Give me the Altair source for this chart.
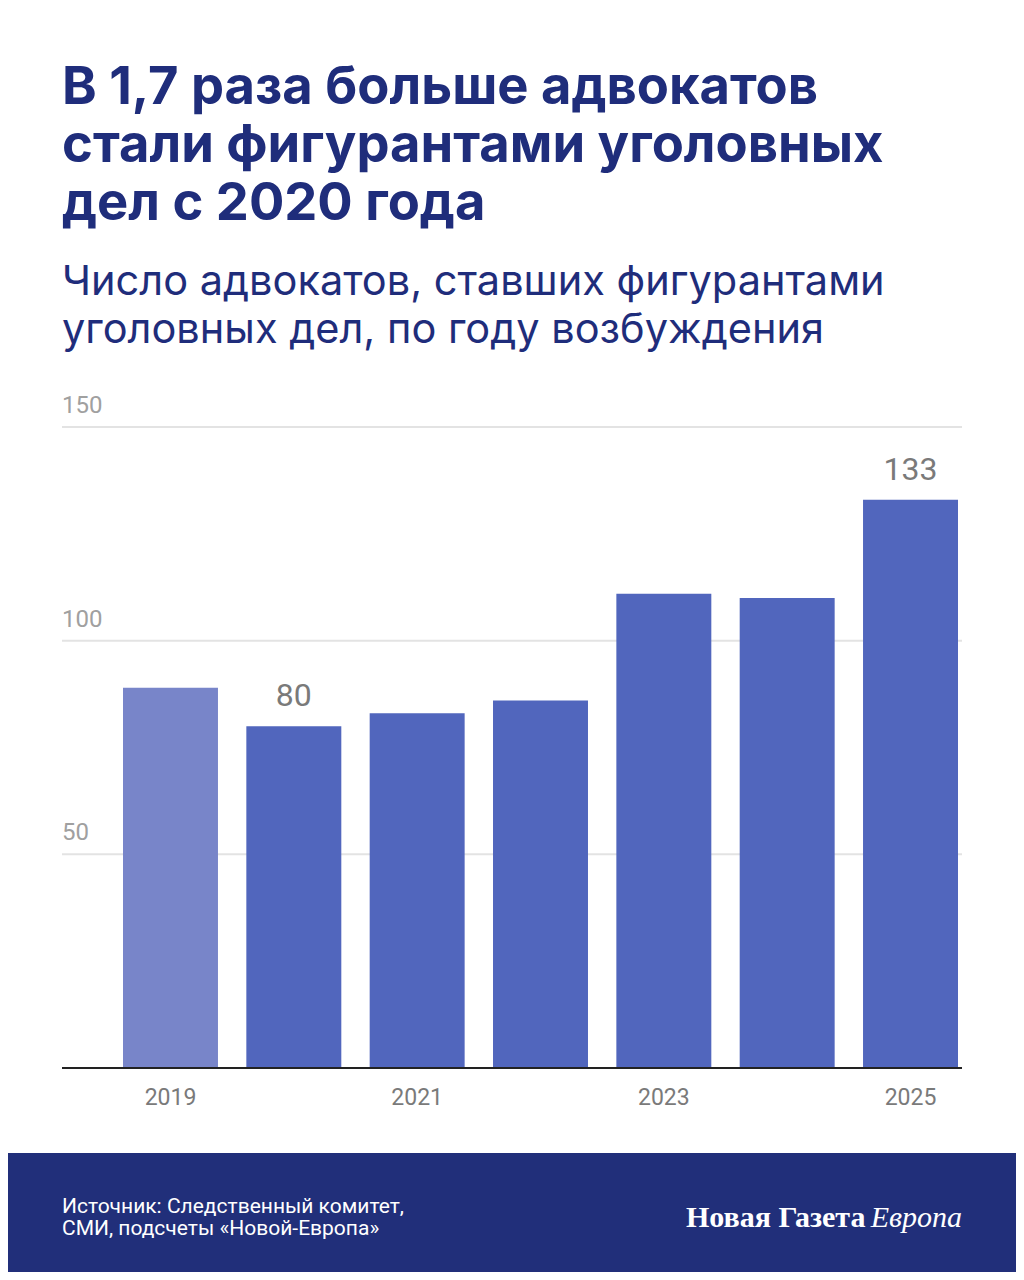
import altair as alt
import pandas as pd

years = ["2019", "2020", "2021", "2022", "2023", "2024", "2025"]
counts = [89, 80, 83, 86, 111, 110, 133]
labeled_years = ["2020", "2025"]
tick_years = ["2019", "2021", "2023", "2025"]
grid_values = [50, 100, 150]

title_lines = ["В 1,7 раза больше адвокатов", "стали фигурантами уголовных", "дел с 2020 года"]
subtitle_lines = ["Число адвокатов, ставших фигурантами", "уголовных дел, по году возбуждения"]
source_lines = ["Источник: Следственный комитет,", "СМИ, подсчеты «Новой-Европа»"]

NAVY = "#1f2d7b"
BAR = "#5166bd"
BAR_LIGHT = "#7885c9"

df = pd.DataFrame({"year": years, "count": counts})
grid_df = pd.DataFrame({"v": grid_values})
ticks_df = pd.DataFrame({"year": tick_years})

xs = alt.Scale(domain=years, range=[115, 950], paddingInner=0.23, paddingOuter=0)
ys = alt.Scale(domain=[0, 150], range=[1060, 419])

X = alt.X("year:O", scale=xs, axis=None)

grid = alt.Chart(grid_df).mark_rule(color="#e3e3e3", strokeWidth=2).encode(
    y=alt.Y("v:Q", scale=ys, axis=None),
    x=alt.value(54), x2=alt.value(954),
)
grid_lab = alt.Chart(grid_df).mark_text(
    align="left", baseline="alphabetic", dy=-14, font="Roboto", fontSize=24, color="#a0a0a0"
).encode(
    y=alt.Y("v:Q", scale=ys, axis=None),
    x=alt.value(54),
    text="v:Q",
)

bars = alt.Chart(df).mark_bar().encode(
    x=X,
    y=alt.Y("count:Q", scale=ys, axis=None),
    color=alt.condition(alt.datum.year == "2019", alt.value(BAR_LIGHT), alt.value(BAR)),
)

val_lab = alt.Chart(df).transform_filter(
    alt.FieldOneOfPredicate(field="year", oneOf=labeled_years)
).mark_text(baseline="alphabetic", dy=-20, font="Roboto", fontSize=32, color="#7a7a7a").encode(
    x=X,
    y=alt.Y("count:Q", scale=ys, axis=None),
    text="count:Q",
)

baseline = alt.Chart(pd.DataFrame({"v": [0]})).mark_rule(color="#222222", strokeWidth=2).encode(
    y=alt.Y("v:Q", scale=ys, axis=None),
    x=alt.value(54), x2=alt.value(954),
)

x_lab = alt.Chart(ticks_df).mark_text(
    baseline="alphabetic", font="Roboto", fontSize=23, color="#7a7a7a"
).encode(
    x=X,
    y=alt.value(1097),
    text="year:N",
)

def text_lines(lines, y0, step, **kw):
    d = pd.DataFrame({"t": lines, "i": list(range(len(lines)))})
    return alt.Chart(d).transform_calculate(
        yy=f"{y0} + datum.i * {step}"
    ).mark_text(align="left", baseline="alphabetic", **kw).encode(
        x=alt.value(54),
        y=alt.Y("yy:Q", scale=None, axis=None),
        text="t:N",
    )

title = text_lines(title_lines, 96, 58, font="Inter", fontSize=52.5, fontWeight="bold", color=NAVY)
subtitle = text_lines(subtitle_lines, 287, 48, font="Inter", fontSize=41.5, color=NAVY)

footer = alt.Chart(pd.DataFrame({"a": [0]})).mark_rect(color="#212f7a").encode(
    x=alt.value(-10), x2=alt.value(1020), y=alt.value(1145), y2=alt.value(1270),
)
source = text_lines(source_lines, 1205, 22, font="Roboto", fontSize=21, color="white")

logo1 = alt.Chart(pd.DataFrame({"t": ["Новая Газета"]})).mark_text(
    align="left", baseline="alphabetic", font="Liberation Serif", fontSize=30, fontWeight="bold", color="white"
).encode(x=alt.value(678), y=alt.value(1219), text="t:N")
logo2 = alt.Chart(pd.DataFrame({"t": ["Европа"]})).mark_text(
    align="right", baseline="alphabetic", font="Liberation Serif", fontSize=30, fontStyle="italic", color="white"
).encode(x=alt.value(954), y=alt.value(1219), text="t:N")

chart = alt.layer(
    footer, grid, grid_lab, bars, baseline, val_lab, x_lab, title, subtitle, source, logo1, logo2
).resolve_scale(y="independent").properties(
    width=1008, height=1264, padding=0, autosize=alt.AutoSizeParams(type="none"),
    background="white",
).configure_view(stroke=None)

chart.save("out.html", embed_options={"renderer": "svg", "actions": False})
